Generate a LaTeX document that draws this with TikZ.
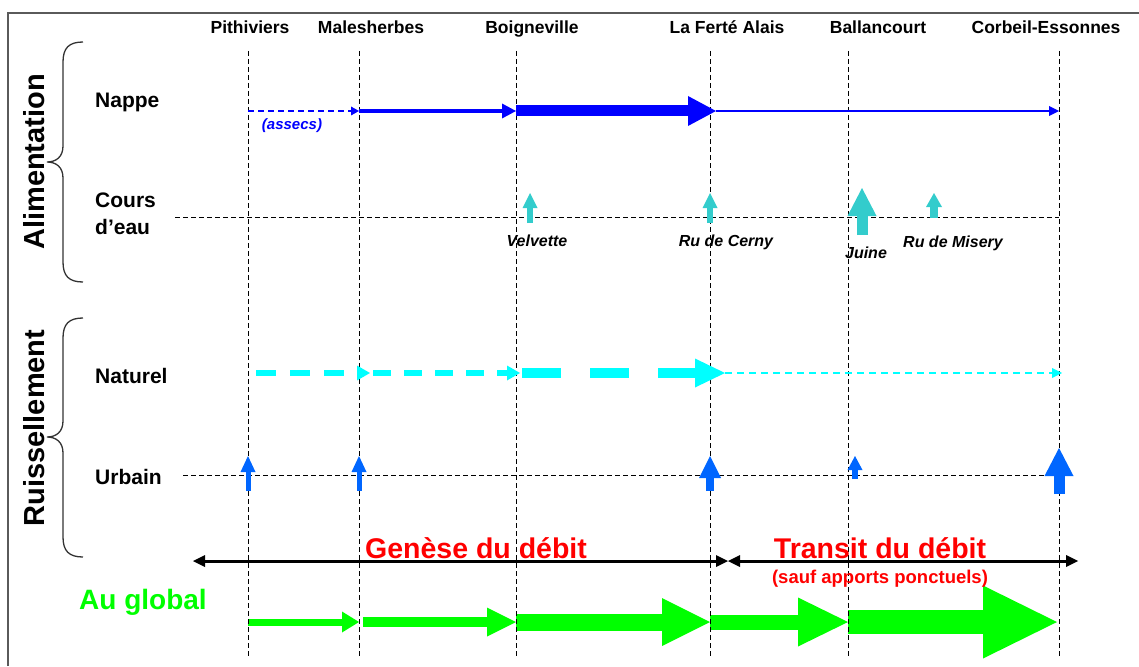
\documentclass[tikz,border=0pt]{standalone}
\usepackage{fontspec}
\setmainfont{Liberation Sans}
\usetikzlibrary{arrows.meta}
\definecolor{nblue}{RGB}{0,0,255}
\definecolor{rteal}{RGB}{51,204,204}
\definecolor{ncyan}{RGB}{0,255,255}
\definecolor{ublue}{RGB}{0,102,255}
\definecolor{ggreen}{RGB}{0,255,0}
\definecolor{rred}{RGB}{255,0,0}
\definecolor{framegray}{RGB}{90,90,90}
\begin{document}
\begin{tikzpicture}[x=1pt,y=-1pt,
  city/.style={font=\fontsize{17.5}{20}\selectfont\bfseries, anchor=base, inner sep=0pt},
  rowlab/.style={font=\fontsize{21}{24}\selectfont\bfseries, anchor=base west, inner sep=0pt},
  grouplab/.style={font=\fontsize{29}{34}\selectfont\bfseries, rotate=90, inner sep=0pt},
  river/.style={font=\fontsize{16}{19}\selectfont\bfseries\itshape, anchor=base, inner sep=0pt},
  phase/.style={font=\fontsize{28.5}{32}\selectfont\bfseries, text=rred, anchor=base, inner sep=0pt},
  grid/.style={line width=0.9pt, dash pattern=on 5pt off 3pt},
  bracestyle/.style={line width=1.3pt, draw=black!80},
  blk/.style n args={3}{line width=#1pt, -{Triangle[length=#2pt, width=#3pt, line width=0pt]}},
  dbl/.style={line width=3pt, {Triangle[length=12pt,width=12pt,line width=0pt]}-{Triangle[length=12pt,width=12pt,line width=0pt]}}
]
\useasboundingbox (0,0) rectangle (1139,666);
% frame
\draw[framegray, line width=1.5pt] (8,666) -- (8,13) -- (1139,13);

% columns
\foreach \n/\x in {P/248,M/359,B/516,F/710,Ba/848,C/1059}{
  \coordinate (\n) at (\x,51);
  \coordinate (\n-b) at (\x,658);
}

% green global arrows (under grid)
\coordinate (g0) at (248,622); \coordinate (g1) at (359,622);
\coordinate (g1b) at (363,622); \coordinate (g2) at (516,622);
\coordinate (g3) at (710,622); \coordinate (g4) at (848,622);
\coordinate (g5) at (1057,622);
\draw[ggreen, blk={7}{17}{21}] (g0) -- (g1);
\draw[ggreen, blk={10}{29}{29}] (g1b) -- (g2);
\draw[ggreen, blk={17}{48}{48}] (g2) -- (g3);
\draw[ggreen, blk={15}{50}{49}] (g3) -- (g4);
\draw[ggreen, blk={24}{74}{73}] (g4) -- (g5);

% grid
\foreach \n in {P,M,B,F,Ba,C}{ \draw[grid] (\n) -- (\n-b); }
\coordinate (hC0) at (175,217);
\draw[grid] (hC0) -- (C |- hC0);
\coordinate (hU0) at (183,475);
\draw[grid] (hU0) -- (C |- hU0);

% city labels
\node[city] (lP) at (250,34) {Pithiviers};
\node[city] (lM) at (371,34) {Malesherbes};
\node[city] (lB) at (532,34) {Boigneville};
\node[city] (lF) at (727,34) {La Ferté Alais};
\node[city] (lBa) at (878,34) {Ballancourt};
\node[city] (lC) at (1046,34) {Corbeil-Essonnes};

% group labels and braces
\node[grouplab] (gA) at (34,162) {Alimentation};
\node[grouplab] (gR) at (34,428) {Ruissellement};
\draw[bracestyle] (83,42) .. controls (69,42) and (63,48) .. (63,62) -- (63,146)
  .. controls (63,157) and (56,162) .. (47,162)
  .. controls (56,162) and (63,167) .. (63,178) -- (63,262)
  .. controls (63,276) and (69,282) .. (83,282);
\draw[bracestyle] (83,318) .. controls (69,318) and (63,324) .. (63,338) -- (63,421)
  .. controls (63,432) and (56,437) .. (47,437)
  .. controls (56,437) and (63,442) .. (63,453) -- (63,537)
  .. controls (63,551) and (69,557) .. (83,557);

% row labels
\node[rowlab] (rN) at (95,107) {Nappe};
\node[rowlab] (rC1) at (95,207) {Cours};
\node[rowlab] (rC2) at (95,234) {d’eau};
\node[rowlab] (rNat) at (95,383) {Naturel};
\node[rowlab] (rU) at (95,484) {Urbain};

% Nappe
\coordinate (yN) at (0,111);
\coordinate (nF) at (716,111);
\draw[nblue, blk={2}{8}{9}, dash pattern=on 6pt off 4pt] (P |- yN) -- (M |- yN);
\draw[nblue, blk={4}{14}{15}] (M |- yN) -- (B |- yN);
\draw[nblue, blk={11}{28}{30}] (B |- yN) -- (nF);
\draw[nblue, blk={2}{10}{10}] (nF) -- (C |- yN);
\node[river, text=nblue, font=\fontsize{15}{18}\selectfont\bfseries\itshape] (assecs) at (292,129) {(assecs)};

% Cours d'eau
\coordinate (v0) at (530,223); \coordinate (v1) at (530,193);
\coordinate (c0) at (710,223); \coordinate (c1) at (710,193);
\coordinate (j0) at (862,235); \coordinate (j1) at (862,188);
\coordinate (m0) at (934,218); \coordinate (m1) at (934,193);
\draw[rteal, blk={6}{15}{15}] (v0) -- (v1);
\draw[rteal, blk={6}{15}{15}] (c0) -- (c1);
\draw[rteal, blk={11}{28}{29}] (j0) -- (j1);
\draw[rteal, blk={8}{14}{16}] (m0) -- (m1);
\node[river] (tV) at (537,246) {Velvette};
\node[river] (tC) at (726,246) {Ru de Cerny};
\node[river] (tJ) at (866,258) {Juine};
\node[river] (tM) at (953,247) {Ru de Misery};

% Naturel
\coordinate (n0) at (256,373); \coordinate (n1) at (370,373);
\coordinate (n2) at (373,373); \coordinate (n3) at (520,373);
\coordinate (n4) at (522,373); \coordinate (n5) at (725,373);
\coordinate (n6) at (1062,373);
\draw[ncyan, blk={6}{13}{15}, dash pattern=on 20pt off 14pt] (n0) -- (n1);
\draw[ncyan, blk={6}{13}{15}, dash pattern=on 18pt off 13pt] (n2) -- (n3);
\draw[ncyan, blk={10}{30}{29}, dash pattern=on 39pt off 29pt] (n4) -- (n5);
\draw[ncyan, blk={2}{10}{10}, dash pattern=on 7pt off 5pt] (n5) -- (n6);

% Urbain
\coordinate (u1a) at (248,491); \coordinate (u1b) at (248,456);
\coordinate (u2a) at (359,491); \coordinate (u2b) at (359,456);
\coordinate (u3a) at (710,491); \coordinate (u3b) at (710,456);
\coordinate (u4a) at (855,479); \coordinate (u4b) at (855,456);
\coordinate (u5a) at (1059,494); \coordinate (u5b) at (1059,448);
\draw[ublue, blk={5}{16}{15}] (u1a) -- (u1b);
\draw[ublue, blk={5}{16}{15}] (u2a) -- (u2b);
\draw[ublue, blk={8}{22}{22}] (u3a) -- (u3b);
\draw[ublue, blk={6}{14}{15}] (u4a) -- (u4b);
\draw[ublue, blk={11}{28}{29}] (u5a) -- (u5b);

% phases
\coordinate (k0) at (193,561); \coordinate (k1) at (728,561); \coordinate (k2) at (1078,561);
\draw[dbl] (k0) -- (k1);
\draw[dbl] (k1) -- (k2);
\node[phase] (tG) at (476,558) {Genèse du débit};
\node[phase] (tT) at (880,558) {Transit du débit};
\node[phase, font=\fontsize{18.5}{21}\selectfont\bfseries] (tS) at (880,583) {(sauf apports ponctuels)};
\node[font=\fontsize{28}{32}\selectfont\bfseries, text=ggreen, anchor=base, inner sep=0pt] (tAu) at (143,609) {Au global};
\end{tikzpicture}
\end{document}
